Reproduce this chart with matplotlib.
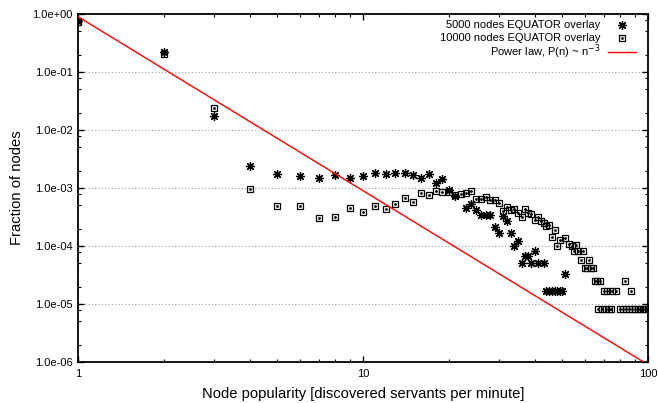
import numpy as np
import matplotlib
matplotlib.use("Agg")
import matplotlib.pyplot as plt
from matplotlib.ticker import FixedLocator, FormatStrFormatter, NullFormatter

plt.rcParams['font.family'] = ['Liberation Sans', 'DejaVu Sans']

# 5000 nodes EQUATOR overlay
pop_5000 = [1, 2, 3, 4, 5, 6, 7, 8, 9, 10, 11, 12, 13, 14, 15, 16, 17, 18, 19, 20, 21,
            23, 24, 25, 26, 27, 28, 29, 30, 31, 32, 33, 34, 35, 36, 37, 38, 39, 40, 41,
            43, 44, 45, 46, 47, 48, 49, 50, 51]
frac_5000 = [0.76, 0.224, 0.0172, 2.4e-3, 1.72e-3, 1.63e-3, 1.51e-3, 1.70e-3, 1.47e-3,
             1.63e-3, 1.84e-3, 1.77e-3, 1.80e-3, 1.84e-3, 1.68e-3, 1.51e-3, 1.72e-3,
             1.2e-3, 1.45e-3, 9.1e-4, 7.3e-4,
             4.6e-4, 5.3e-4, 4.1e-4, 3.4e-4, 3.4e-4, 3.4e-4, 2.1e-4, 1.7e-4, 3.3e-4,
             2.7e-4, 1.7e-4, 1.0e-4, 1.2e-4, 5.0e-5, 6.7e-5, 6.7e-5, 5.0e-5, 8.3e-5, 5.0e-5,
             5.0e-5, 1.67e-5, 1.67e-5, 1.67e-5, 1.67e-5, 1.67e-5, 1.67e-5, 1.67e-5, 3.3e-5]

# 10000 nodes EQUATOR overlay
pop_10000 = [1, 2, 3, 4, 5, 6, 7, 8, 9, 10, 11, 12, 13, 14, 15, 16, 17, 18, 19, 20,
             21, 22, 23, 24, 25, 26, 27, 28, 29, 30, 31, 32, 33, 34, 35, 36, 37, 38, 39, 40,
             41, 42, 43, 44, 45, 46, 47, 48, 49, 51, 53, 54, 55, 56, 57, 58, 59, 60,
             61, 62, 63, 64, 65, 66, 67, 68, 69, 70, 71, 72, 73, 74, 75, 77,
             80, 82, 83, 84, 86, 87, 88, 90, 92, 94, 96, 98, 100]
frac_10000 = [0.74, 0.204, 0.0237, 9.6e-4, 4.8e-4, 4.8e-4, 3.1e-4, 3.2e-4, 4.6e-4, 3.9e-4,
              4.8e-4, 4.3e-4, 5.3e-4, 6.6e-4, 5.8e-4, 8.2e-4, 7.6e-4, 8.9e-4, 8.6e-4, 8.6e-4,
              7.6e-4, 7.8e-4, 8.3e-4, 8.9e-4, 6.5e-4, 6.5e-4, 7.1e-4, 6.2e-4, 6.2e-4, 5.6e-4,
              4.0e-4, 4.7e-4, 4.2e-4, 4.3e-4, 3.7e-4, 3.2e-4, 4.3e-4, 3.7e-4, 3.5e-4, 2.8e-4,
              3.2e-4, 2.7e-4, 2.5e-4, 2.2e-4, 2.3e-4, 1.45e-4, 1.9e-4, 1.0e-4, 1.25e-4,
              1.4e-4, 1.1e-4, 1.0e-4, 8.3e-5, 1.05e-4, 8.3e-5, 5.8e-5, 8.3e-5, 4.2e-5,
              4.2e-5, 5.8e-5, 4.2e-5, 4.2e-5, 2.5e-5, 2.5e-5, 8.3e-6, 2.5e-5, 8.3e-6, 1.67e-5,
              8.3e-6, 1.67e-5, 8.3e-6, 8.3e-6, 1.67e-5, 1.67e-5,
              8.3e-6, 8.3e-6, 2.5e-5, 8.3e-6, 8.3e-6, 1.67e-5, 8.3e-6, 8.3e-6, 8.3e-6,
              8.3e-6, 8.3e-6, 8.3e-6, 8.3e-6]

# power law reference P(n) = c * n^-3
law_coef = 0.9
law_exp = -3
law_n = np.array([1.0, 100.0])

star = dict(linestyle='none', marker=(8, 2, 0), markersize=6.5, markeredgewidth=0.9,
            color='black')
box = dict(linestyle='none', marker='s', markersize=5.0, markeredgewidth=0.9,
           markerfacecolor='none', markeredgecolor='black')
dot = dict(linestyle='none', marker='o', markersize=1.0, color='black')

fig = plt.figure(figsize=(6.58, 4.03), dpi=100)
ax = fig.add_axes([0.1185, 0.1017, 0.8663, 0.8636])
ax.set_xscale('log')
ax.set_yscale('log')
ax.set_xlim(1, 100)
ax.set_ylim(1e-6, 1)

# only horizontal dotted grid, like gnuplot
ax.yaxis.grid(True, which='major', linestyle=(0, (1, 2)), color='#a0a0a0', linewidth=0.8)
ax.set_axisbelow(True)

ax.plot(pop_5000, frac_5000, zorder=3, **star)
ax.plot(pop_10000, frac_10000, zorder=3, **box)
ax.plot(pop_10000, frac_10000, zorder=3, **dot)
ax.plot(law_n, law_coef * law_n ** law_exp, color='red', linewidth=1.0, zorder=4)

# ticks
ax.xaxis.set_major_locator(FixedLocator([1, 10, 100]))
ax.xaxis.set_minor_locator(FixedLocator([m * d for d in (1, 10) for m in range(2, 10)]))
ax.xaxis.set_major_formatter(FormatStrFormatter('%g'))
ax.xaxis.set_minor_formatter(NullFormatter())
ax.yaxis.set_major_locator(FixedLocator([10.0 ** k for k in range(-6, 1)]))
ax.yaxis.set_minor_locator(FixedLocator([m * 10.0 ** k for k in range(-7, 0) for m in (2, 5, 8)]))
ax.yaxis.set_major_formatter(FormatStrFormatter('%.1e'))
ax.yaxis.set_minor_formatter(NullFormatter())
ax.tick_params(which='both', direction='in', top=True, right=True, labelsize=8, colors='black')
ax.tick_params(which='major', length=4, width=1.0)
ax.tick_params(which='minor', length=2.2, width=0.8)
ax.tick_params(axis='y', pad=4)
ax.tick_params(axis='x', pad=5)
for s in ax.spines.values():
    s.set_linewidth(1.3)

ax.set_xlabel('Node popularity [discovered servants per minute]', fontsize=10.6)
ax.set_ylabel('Fraction of nodes', fontsize=10.6)
ax.xaxis.set_label_coords(0.5, -0.073)
ax.yaxis.set_label_coords(-0.095, 0.5)

# gnuplot-style key: right aligned text, sample on the right
key_x_text = 0.916
key_x_mark = 0.954
rows = [0.968, 0.931, 0.891]
ax.text(key_x_text, rows[0], '5000 nodes EQUATOR overlay', transform=ax.transAxes,
        ha='right', va='center', fontsize=8)
ax.text(key_x_text, rows[1], '10000 nodes EQUATOR overlay', transform=ax.transAxes,
        ha='right', va='center', fontsize=8)
ax.text(key_x_text, rows[2], r'Power law, P(n) ~ n$^{-3}$', transform=ax.transAxes,
        ha='right', va='center', fontsize=8)
ax.plot([key_x_mark], [rows[0]], transform=ax.transAxes, **star)
ax.plot([key_x_mark], [rows[1]], transform=ax.transAxes, **box)
ax.plot([key_x_mark], [rows[1]], transform=ax.transAxes, **dot)
ax.plot([0.930, 0.979], [rows[2], rows[2]], transform=ax.transAxes, color='red', linewidth=1.0)

fig.savefig('out.png', dpi=100)
